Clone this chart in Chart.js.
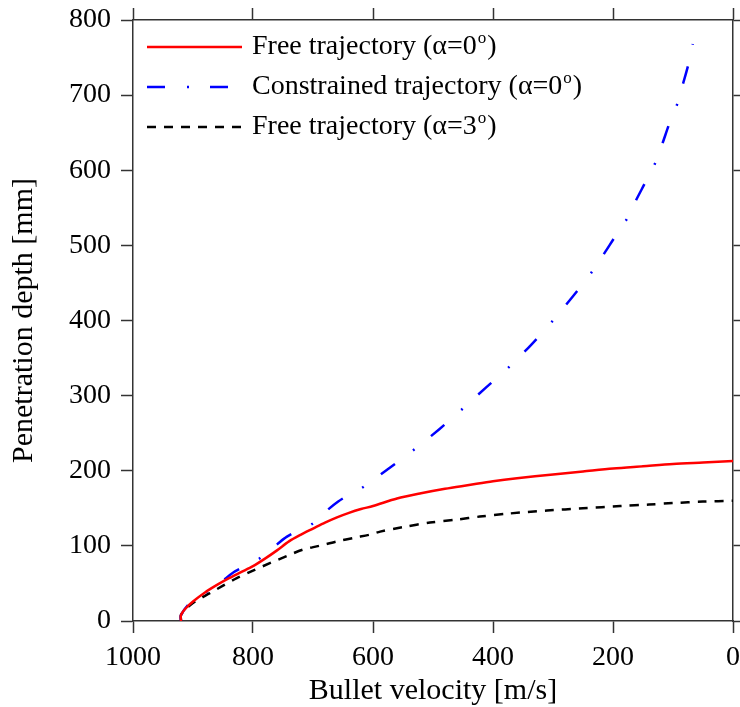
<!DOCTYPE html>
<html>
<head>
<meta charset="utf-8">
<script src="https://cdn.jsdelivr.net/npm/chart.js@4.4.1/dist/chart.umd.min.js"></script>
<style>
  body { margin: 0; background: #fff; }
  #depthChart { display: block; }
</style>
</head>
<body>
<canvas id="depthChart" width="740" height="707"></canvas>
<script>
// series values (velocity in m/s, depth in mm)
const freeVel = [920, 920, 912, 900, 880, 860, 840, 820, 800, 780, 760, 740, 720, 700, 680, 660, 640, 620, 600, 560, 520, 480, 440, 400, 360, 300, 250, 200, 150, 100, 50, 0];
const freeDepth = [0, 8, 17, 26, 38, 48, 57, 65, 73, 83, 94, 106, 115, 123, 131, 138, 144, 149, 153, 163, 170, 176, 181, 186, 190, 195, 199, 203, 206, 209, 211, 213];

const constrVel = [920, 920, 905, 877, 850, 830, 800, 788, 760, 744, 720, 700, 680, 658, 640, 615, 572, 530, 490, 450, 410, 372, 336, 300, 267, 235, 214, 197, 177, 161, 146, 130, 117, 107, 93, 83, 75, 67];
const constrDepth = [0, 8, 24, 39, 54, 66, 78, 84, 102, 112, 122, 130, 145, 159, 168, 179, 204, 229, 255, 283, 312, 339, 368, 400, 432, 465, 490, 511, 535, 561, 584, 609, 637, 660, 688, 716, 739, 768];

const tiltVel = [920, 920, 912, 900, 872, 850, 827, 800, 772, 745, 717, 690, 660, 630, 605, 588, 550, 505, 460, 422, 374, 310, 250, 188, 140, 100, 50, 0];
const tiltDepth = [0, 8, 16, 24, 37, 47, 57, 67, 77, 86, 95, 100, 106, 111, 115, 119, 125, 131, 135, 139, 143, 147, 150, 153, 155, 157, 159, 160];

const seriesNames = ["Free trajectory (\u03b1=0", "Constrained trajectory (\u03b1=0", "Free trajectory (\u03b1=3"];

const serif = "'Liberation Serif', 'Times New Roman', serif";
const axisColor = "#333";

function toPoints(xs, ys) {
    return xs.map((x, i) => ({ x: x, y: ys[i] }));
}

// legend drawn inside the plot, top left
const insideLegend = {
    id: "insideLegend",
    afterDatasetsDraw(chart) {
        const ctx = chart.ctx;
        const rows = [47, 87, 127];
        ctx.save();
        chart.data.datasets.forEach((ds, i) => {
            const y = rows[i];
            ctx.strokeStyle = ds.borderColor;
            ctx.lineWidth = ds.borderWidth;
            ctx.setLineDash(ds.borderDash || []);
            ctx.beginPath();
            ctx.moveTo(147, y);
            ctx.lineTo(242, y);
            ctx.stroke();

            ctx.setLineDash([]);
            ctx.fillStyle = "#000";
            ctx.textBaseline = "middle";
            ctx.font = "28px " + serif;
            let x = 252;
            ctx.fillText(ds.label, x, y);
            x += ctx.measureText(ds.label).width;
            ctx.font = "17px " + serif;
            ctx.fillText("o", x + 1, y - 8);
            x += ctx.measureText("o").width + 2;
            ctx.font = "28px " + serif;
            ctx.fillText(")", x, y);
        });
        ctx.restore();
    }
};

const gridOpts = {
    drawOnChartArea: false,
    drawTicks: true,
    tickLength: 12,
    tickWidth: 1.5,
    tickColor: axisColor
};
const borderOpts = { display: true, color: axisColor, width: 1.5 };

function noPad(scale) {
    scale.paddingLeft = 0;
    scale.paddingRight = 0;
    scale.paddingTop = 0;
    scale.paddingBottom = 0;
}

new Chart(document.getElementById("depthChart").getContext("2d"), {
    type: "line",
    data: {
        datasets: [
            {
                label: seriesNames[0],
                data: toPoints(freeVel, freeDepth),
                borderColor: "#ff0000",
                borderWidth: 2.5,
                pointRadius: 0,
                tension: 0.3
            },
            {
                label: seriesNames[1],
                data: toPoints(constrVel, constrDepth),
                borderColor: "#0000ff",
                borderWidth: 2.5,
                borderDash: [18, 22, 2, 21],
                pointRadius: 0,
                tension: 0.3
            },
            {
                label: seriesNames[2],
                data: toPoints(tiltVel, tiltDepth),
                borderColor: "#000000",
                borderWidth: 2.5,
                borderDash: [9, 8],
                pointRadius: 0,
                tension: 0.3
            }
        ]
    },
    options: {
        responsive: false,
        animation: false,
        layout: { padding: 0 },
        plugins: {
            legend: { display: false },
            tooltip: { enabled: false }
        },
        scales: {
            x: {
                type: "linear",
                position: "bottom",
                reverse: true,
                min: 0,
                max: 1000,
                grid: gridOpts,
                border: borderOpts,
                ticks: {
                    stepSize: 200,
                    color: "#000",
                    padding: 8,
                    maxRotation: 0,
                    font: { family: serif, size: 28 },
                    callback: v => String(v)
                },
                title: {
                    display: true,
                    text: "Bullet velocity [m/s]",
                    color: "#000",
                    padding: { top: 0, bottom: 1 },
                    font: { family: serif, size: 30, lineHeight: 1 }
                },
                afterFit(scale) { scale.height = 86; noPad(scale); }
            },
            x2: {
                type: "linear",
                position: "top",
                reverse: true,
                min: 0,
                max: 1000,
                grid: gridOpts,
                border: borderOpts,
                ticks: { stepSize: 200, display: false },
                afterFit(scale) { scale.height = 20; noPad(scale); }
            },
            y: {
                type: "linear",
                position: "left",
                min: 0,
                max: 800,
                grid: gridOpts,
                border: borderOpts,
                ticks: {
                    stepSize: 100,
                    color: "#000",
                    padding: 10,
                    font: { family: serif, size: 28 },
                    callback: v => String(v)
                },
                title: {
                    display: true,
                    text: "Penetration depth [mm]",
                    color: "#000",
                    padding: { top: 9, bottom: 0 },
                    font: { family: serif, size: 30, lineHeight: 1 }
                },
                afterFit(scale) { scale.width = 133; noPad(scale); }
            },
            y2: {
                type: "linear",
                position: "right",
                min: 0,
                max: 800,
                grid: gridOpts,
                border: borderOpts,
                ticks: { stepSize: 100, display: false },
                afterFit(scale) { scale.width = 7; noPad(scale); }
            }
        }
    },
    plugins: [insideLegend]
});
</script>
</body>
</html>
